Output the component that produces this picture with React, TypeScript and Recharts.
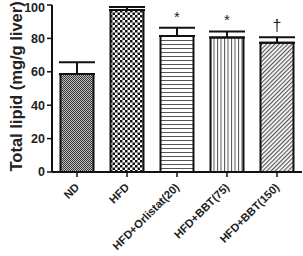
import { BarChart, Bar, XAxis, YAxis, Cell, ErrorBar, LabelList } from "recharts";

const groups = ["ND", "HFD", "HFD+Orlistat(20)", "HFD+BBT(75)", "HFD+BBT(150)"];
const lipid = [58.7, 97, 81.4, 80.6, 77.4];
const sem = [7, 1.8, 5, 3.6, 3.3];
const marks = ["", "", "*", "*", "\u2020"];
const yTicks = [0, 20, 40, 60, 80, 100];

const fills = ["url(#pNd)", "url(#pHfd)", "url(#pHor)", "url(#pVer)", "url(#pDiag)"];

const data = groups.map((g, i) => ({
  group: g,
  lipid: lipid[i],
  err: [0, sem[i]],
  mark: marks[i],
}));

const font = "Arial, 'Liberation Sans', sans-serif";

const XTick = (props: any) => {
  const { x, y, payload } = props;
  const ax = x + 3;
  const ay = y + 9;
  return (
    <text
      x={ax}
      y={ay}
      textAnchor="end"
      transform={`rotate(-45, ${ax}, ${ay})`}
      fontSize={11.2}
      fontWeight="bold"
      fontFamily={font}
      fill="#222"
    >
      {payload.value}
    </text>
  );
};

const MarkLabel = (props: any) => {
  const { x, width, index } = props;
  const top = 172 - ((lipid[index] + sem[index]) / 100) * 167;
  const m = marks[index];
  if (!m) return null;
  return (
    <text x={x + width / 2} y={top - 6} textAnchor="middle" fontSize={m === "*" ? 15 : 16} fontFamily={font} fill="#222">
      {m}
    </text>
  );
};

const App = () => {
  return (
    <div style={{ position: "absolute", left: 0, top: 0, width: 303, height: 256, background: "#fff" }}>
      <BarChart
        width={303}
        height={256}
        data={data}
        margin={{ top: 5, right: 1, left: 0, bottom: 0 }}
        barCategoryGap="17%"
      >
        <defs>
          <pattern id="pNd" width="2" height="2" patternUnits="userSpaceOnUse">
            <rect width="2" height="2" fill="#bbb" />
            <rect width="1" height="1" fill="#3a3a3a" />
            <rect x="1" y="1" width="1" height="1" fill="#3a3a3a" />
          </pattern>
          <pattern id="pHfd" width="5" height="5" patternUnits="userSpaceOnUse">
            <rect width="5" height="5" fill="#fff" />
            <rect width="2.5" height="2.5" fill="#111" />
            <rect x="2.5" y="2.5" width="2.5" height="2.5" fill="#111" />
          </pattern>
          <pattern id="pHor" width="4" height="4" patternUnits="userSpaceOnUse">
            <rect width="4" height="4" fill="#fff" />
            <rect width="4" height="1" fill="#555" />
          </pattern>
          <pattern id="pVer" width="3.5" height="4" patternUnits="userSpaceOnUse">
            <rect width="3.5" height="4" fill="#fff" />
            <rect width="1" height="4" fill="#555" />
          </pattern>
          <pattern id="pDiag" width="3" height="3" patternUnits="userSpaceOnUse" patternTransform="rotate(45)">
            <rect width="3" height="3" fill="#fff" />
            <rect width="1.2" height="3" fill="#555" />
          </pattern>
        </defs>
        <XAxis
          dataKey="group"
          interval={0}
          height={84}
          tick={<XTick />}
          tickSize={5}
          axisLine={{ stroke: "#111", strokeWidth: 2 }}
          tickLine={{ stroke: "#111", strokeWidth: 1.5 }}
        />
        <YAxis
          width={52}
          domain={[0, 100]}
          ticks={yTicks}
          tickSize={5}
          axisLine={{ stroke: "#111", strokeWidth: 2 }}
          tickLine={{ stroke: "#111", strokeWidth: 1.5 }}
          tick={{ fontSize: 12.5, fontWeight: "bold", fontFamily: font, fill: "#222" }}
          label={{
            value: "Total lipid (mg/g liver)",
            angle: -90,
            position: "insideLeft",
            dx: 11,
            dy: 83,
            style: { fontSize: 16.5, fontWeight: "bold", fontFamily: font, fill: "#222", textAnchor: "start" },
          }}
        />
        <Bar dataKey="lipid" stroke="#111" strokeWidth={2} isAnimationActive={false}>
          {data.map((d, i) => (
            <Cell key={d.group} fill={fills[i]} />
          ))}
          <ErrorBar dataKey="err" width={18} stroke="#111" strokeWidth={2} direction="y" />
          <LabelList dataKey="mark" content={<MarkLabel />} />
        </Bar>
      </BarChart>
    </div>
  );
};

export default App;
